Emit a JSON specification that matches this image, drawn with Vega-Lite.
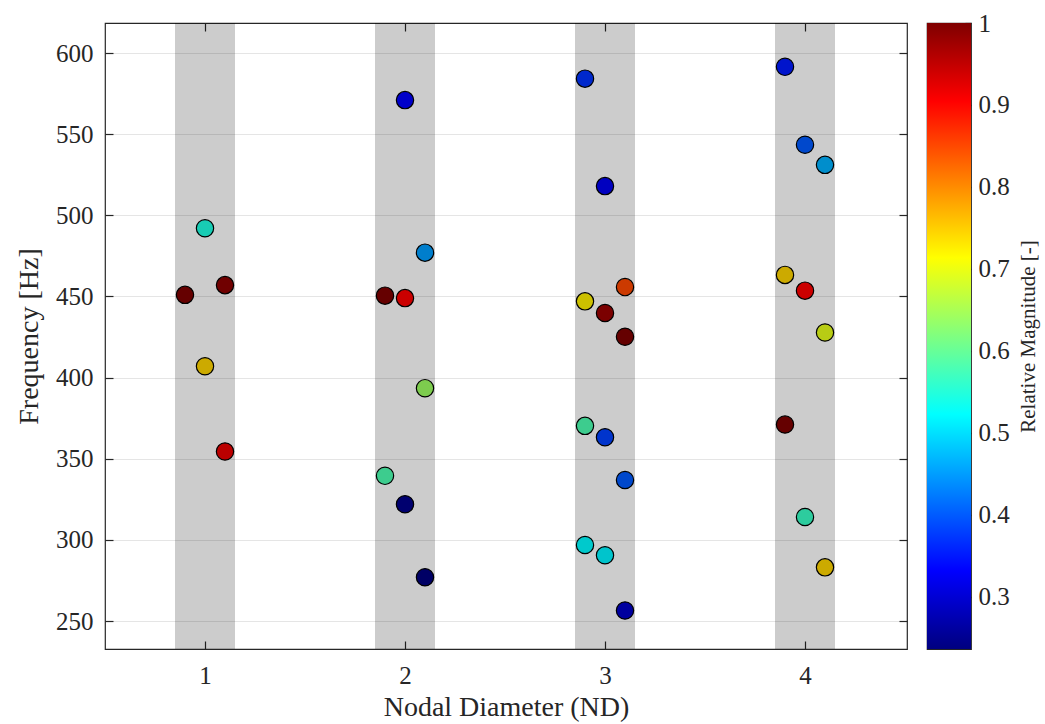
{
  "$schema": "https://vega.github.io/schema/vega-lite/v6.json",
  "background": "white",
  "padding": {"left": 14, "top": 10, "right": 5, "bottom": 2},
  "spacing": 17,
  "config": {
    "font": "Liberation Serif",
    "view": {"stroke": "#262626", "strokeWidth": 1.2},
    "axis": {
      "labelFont": "Liberation Serif",
      "titleFont": "Liberation Serif",
      "labelFontSize": 25,
      "titleFontSize": 28,
      "titleFontWeight": "normal",
      "labelColor": "#262626",
      "titleColor": "#262626",
      "tickColor": "#262626",
      "tickWidth": 1.2,
      "domain": false,
      "gridColor": "#000000",
      "gridOpacity": 0.1,
      "gridWidth": 1.2
    }
  },
  "datasets": {
    "modes": [
      {"nd": 1, "pos": 0.9, "freq": 451.0, "mag": 1.0},
      {"nd": 1, "pos": 1.0, "freq": 492.0, "mag": 0.545},
      {"nd": 1, "pos": 1.0, "freq": 407.0, "mag": 0.745},
      {"nd": 1, "pos": 1.1, "freq": 457.0, "mag": 0.99},
      {"nd": 1, "pos": 1.1, "freq": 354.5, "mag": 0.92},
      {"nd": 2, "pos": 1.9, "freq": 450.5, "mag": 1.0},
      {"nd": 2, "pos": 1.9, "freq": 339.5, "mag": 0.58},
      {"nd": 2, "pos": 2.0, "freq": 571.0, "mag": 0.33},
      {"nd": 2, "pos": 2.0, "freq": 449.0, "mag": 0.905},
      {"nd": 2, "pos": 2.0, "freq": 322.0, "mag": 0.245},
      {"nd": 2, "pos": 2.1, "freq": 477.0, "mag": 0.45},
      {"nd": 2, "pos": 2.1, "freq": 393.5, "mag": 0.64},
      {"nd": 2, "pos": 2.1, "freq": 277.0, "mag": 0.236},
      {"nd": 3, "pos": 2.9, "freq": 584.2, "mag": 0.37},
      {"nd": 3, "pos": 2.9, "freq": 447.0, "mag": 0.725},
      {"nd": 3, "pos": 2.9, "freq": 370.3, "mag": 0.58},
      {"nd": 3, "pos": 2.9, "freq": 296.9, "mag": 0.52},
      {"nd": 3, "pos": 3.0, "freq": 518.0, "mag": 0.32},
      {"nd": 3, "pos": 3.0, "freq": 439.8, "mag": 0.98},
      {"nd": 3, "pos": 3.0, "freq": 363.3, "mag": 0.38},
      {"nd": 3, "pos": 3.0, "freq": 290.6, "mag": 0.515},
      {"nd": 3, "pos": 3.1, "freq": 455.8, "mag": 0.85},
      {"nd": 3, "pos": 3.1, "freq": 425.2, "mag": 1.0},
      {"nd": 3, "pos": 3.1, "freq": 336.9, "mag": 0.4},
      {"nd": 3, "pos": 3.1, "freq": 256.5, "mag": 0.29},
      {"nd": 4, "pos": 3.9, "freq": 591.5, "mag": 0.35},
      {"nd": 4, "pos": 3.9, "freq": 463.3, "mag": 0.745},
      {"nd": 4, "pos": 3.9, "freq": 371.1, "mag": 1.0},
      {"nd": 4, "pos": 4.0, "freq": 543.5, "mag": 0.4},
      {"nd": 4, "pos": 4.0, "freq": 453.6, "mag": 0.905},
      {"nd": 4, "pos": 4.0, "freq": 314.1, "mag": 0.565},
      {"nd": 4, "pos": 4.1, "freq": 531.1, "mag": 0.465},
      {"nd": 4, "pos": 4.1, "freq": 427.8, "mag": 0.695},
      {"nd": 4, "pos": 4.1, "freq": 283.1, "mag": 0.745}
    ],
    "bands": [{"nd": 1}, {"nd": 2}, {"nd": 3}, {"nd": 4}],
    "colorbar": [{"lo": 0.236, "hi": 1.0}]
  },
  "hconcat": [
    {
      "width": 802,
      "height": 626,
      "layer": [
        {
          "data": {"name": "modes"},
          "mark": {"type": "circle", "size": 300, "opacity": 1, "stroke": "#000000", "strokeWidth": 1.2},
          "encoding": {
            "x": {
              "field": "pos", "type": "quantitative",
              "scale": {"domain": [0.5, 4.51], "nice": false, "zero": false, "padding": 0},
              "axis": {"orient": "bottom", "values": [1, 2, 3, 4], "grid": false, "tickSize": -8, "labelPadding": 22, "title": "Nodal Diameter (ND)", "titlePadding": 5}
            },
            "y": {
              "field": "freq", "type": "quantitative",
              "scale": {"domain": [232.8, 618.5], "nice": false, "zero": false, "padding": 0},
              "axis": {"orient": "left", "values": [250, 300, 350, 400, 450, 500, 550, 600], "grid": true, "tickSize": -8, "labelPadding": 20, "title": "Frequency [Hz]", "titlePadding": 12}
            },
            "color": {
              "field": "mag", "type": "quantitative",
              "scale": {
                "type": "linear",
                "domain": [0.236, 0.3315, 0.5225, 0.7135, 0.9045, 1.0],
                "range": ["#00007f", "#0000ff", "#00ffff", "#ffff00", "#ff0000", "#7f0000"],
                "interpolate": "rgb"
              },
              "legend": null
            }
          }
        },
        {
          "data": {"name": "bands"},
          "mark": {"type": "bar", "size": 60, "color": "#000000", "opacity": 0.2},
          "encoding": {
            "x": {
              "field": "nd", "type": "quantitative",
              "axis": {"orient": "top", "values": [1, 2, 3, 4], "labels": false, "grid": false, "tickSize": -8, "title": null}
            },
            "y": {
              "datum": 618.5, "type": "quantitative",
              "axis": {"orient": "right", "values": [250, 300, 350, 400, 450, 500, 550, 600], "labels": false, "grid": false, "tickSize": -8, "title": null}
            },
            "y2": {"datum": 232.8}
          }
        }
      ],
      "resolve": {"axis": {"x": "independent", "y": "independent"}}
    },
    {
      "width": 44,
      "height": 626,
      "data": {"name": "colorbar"},
      "mark": {
        "type": "rect",
        "color": {
          "gradient": "linear",
          "x1": 0, "y1": 1, "x2": 0, "y2": 0,
          "stops": [
            {"offset": 0, "color": "#00007f"},
            {"offset": 0.125, "color": "#0000ff"},
            {"offset": 0.375, "color": "#00ffff"},
            {"offset": 0.625, "color": "#ffff00"},
            {"offset": 0.875, "color": "#ff0000"},
            {"offset": 1, "color": "#7f0000"}
          ]
        }
      },
      "encoding": {
        "y": {
          "field": "lo", "type": "quantitative",
          "scale": {"domain": [0.236, 1.0], "nice": false, "zero": false, "padding": 0},
          "axis": {
            "orient": "right", "values": [0.3, 0.4, 0.5, 0.6, 0.7, 0.8, 0.9, 1.0], "format": "~g",
            "grid": false, "tickSize": -6, "labelPadding": 13,
            "title": "Relative Magnitude [-]", "titleFontSize": 21, "titleAngle": 270, "titleBaseline": "top", "titlePadding": 8
          }
        },
        "y2": {"field": "hi"}
      }
    }
  ]
}
